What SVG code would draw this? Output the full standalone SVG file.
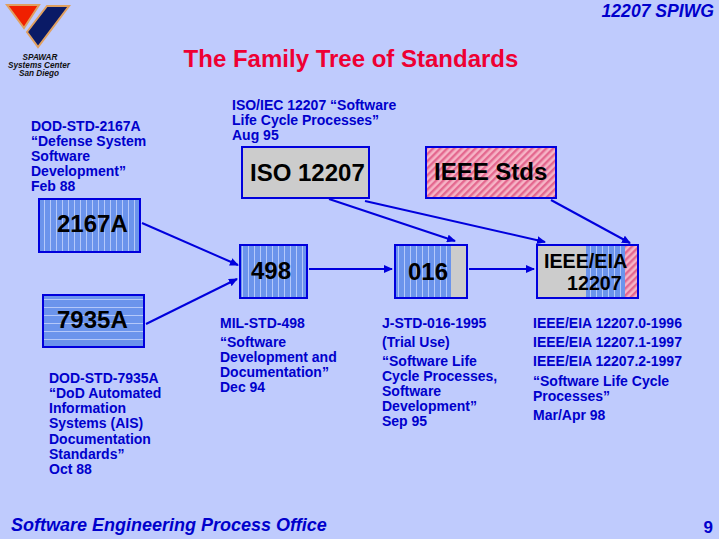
<svg xmlns="http://www.w3.org/2000/svg" width="719" height="539" viewBox="0 0 719 539">
<style>
text{font-family:"Liberation Sans",Arial,sans-serif;font-weight:bold}
.b{fill:#0000cc;font-size:14px}
.n{fill:#000;font-size:24px}
.box{fill:none;stroke:#0000dd;stroke-width:2}
.c{stroke:#0000dd;stroke-width:2;fill:none;marker-end:url(#a)}
</style>
<defs>
<marker id="a" markerUnits="userSpaceOnUse" markerWidth="9" markerHeight="8" refX="8" refY="4" orient="auto"><path d="M0 0L9 4L0 8z" fill="#0000dd"/></marker>
<pattern id="v" width="6" height="10" patternUnits="userSpaceOnUse"><rect width="6" height="10" fill="#6b94ec"/><rect x="2" width="1" height="10" fill="#b4c8fa"/></pattern>
<pattern id="h" width="10" height="8" patternUnits="userSpaceOnUse"><rect width="10" height="8" fill="#6b94ec"/><rect y="3" width="10" height="1" fill="#b4c8fa"/></pattern>
<pattern id="d" width="5" height="5" patternUnits="userSpaceOnUse" patternTransform="rotate(-45)"><rect width="5" height="5" fill="#f6b4c6"/><rect width="5" height="2.4" fill="#e4688f"/></pattern>
</defs>
<rect width="719" height="539" fill="#bfcbfd"/>
<g id="logo">
<path d="M7 5H39L24 28z" fill="#f02000" stroke="#e0a060" stroke-width="2"/>
<path d="M27 32L47 6H69L38 47z" fill="#0a1a66" stroke="#e0a060" stroke-width="2"/>
<g text-anchor="middle" font-size="8.2" font-style="italic" fill="#111"><text x="40" y="60">SPAWAR</text><text x="39" y="68">Systems Center</text><text x="39" y="76">San Diego</text></g>
</g>
<text x="714" y="17" text-anchor="end" font-size="17.6" font-style="italic" fill="#0000cc">12207 SPIWG</text>
<text x="351" y="67" text-anchor="middle" font-size="24" fill="#ee0033">The Family Tree of Standards</text>
<g id="connectors">
<path class="c" d="M142 223L238 265"/>
<path class="c" d="M146 324L237 279"/>
<path class="c" d="M309 269H392"/>
<path class="c" d="M329 199L455 241"/>
<path class="c" d="M365 201L545 242"/>
<path class="c" d="M469 269H534"/>
<path class="c" d="M551 200L630 243"/>
</g>
<g id="n2167a"><rect x="39" y="199" width="101" height="53" class="box" style="fill:url(#v)"/><text class="n" x="57" y="232">2167A</text></g>
<g id="n7935a"><rect x="43" y="295" width="101" height="52" style="fill:url(#h)" class="box"/><text class="n" x="57" y="328">7935A</text></g>
<g id="n498"><rect x="240" y="245" width="67" height="53" style="fill:url(#v)" class="box"/><text class="n" x="251" y="279">498</text></g>
<g id="n016"><rect x="395" y="245" width="72" height="53" style="fill:url(#v)" class="box"/><rect x="451" y="246" width="15" height="51" fill="#cccccc"/><text class="n" x="408" y="280">016</text></g>
<g id="iso"><rect x="242" y="147" width="127" height="51" class="box" style="fill:#ccc"/><text class="n" x="250" y="181">ISO 12207</text></g>
<g id="ieee"><rect x="426" y="147" width="130" height="51" style="fill:url(#d)" class="box"/><text class="n" x="434" y="180">IEEE Stds</text></g>
<g id="ieeeeia"><rect x="537" y="246" width="101" height="52" fill="#cccccc"/><rect x="586" y="246" width="39" height="52" fill="url(#v)"/><rect x="625" y="246" width="13" height="52" fill="url(#d)"/><rect x="537" y="245" width="101" height="53" class="box"/><text x="544" y="268" font-size="19.7">IEEE/EIA</text><text x="567" y="290" font-size="19.7">12207</text></g>
<g class="b" id="labels">
<text x="232" y="110">ISO/IEC 12207 “Software</text><text x="232" y="125">Life Cycle Processes”</text><text x="232" y="140">Aug 95</text>
<text x="31" y="131">DOD-STD-2167A</text><text x="31" y="146">“Defense System</text><text x="31" y="161">Software</text><text x="31" y="176">Development”</text><text x="31" y="191">Feb 88</text>
<text x="49" y="383">DOD-STD-7935A</text><text x="49" y="398">“DoD Automated</text><text x="49" y="413">Information</text><text x="49" y="428">Systems (AIS)</text><text x="49" y="444">Documentation</text><text x="49" y="459">Standards”</text><text x="49" y="474">Oct 88</text>
<text x="220" y="328">MIL-STD-498</text><text x="220" y="347">“Software</text><text x="220" y="362">Development and</text><text x="220" y="377">Documentation”</text><text x="220" y="392">Dec 94</text>
<text x="382" y="328">J-STD-016-1995</text><text x="382" y="347">(Trial Use)</text><text x="382" y="366">“Software Life</text><text x="382" y="381">Cycle Processes,</text><text x="382" y="396">Software</text><text x="382" y="411">Development”</text><text x="382" y="426">Sep 95</text>
<text x="533" y="328">IEEE/EIA 12207.0-1996</text><text x="533" y="347">IEEE/EIA 12207.1-1997</text><text x="533" y="366">IEEE/EIA 12207.2-1997</text><text x="533" y="386">“Software Life Cycle</text><text x="533" y="401">Processes”</text><text x="533" y="420">Mar/Apr 98</text>
</g>
<text x="11" y="531" font-size="18" font-style="italic" fill="#0000cc">Software Engineering Process Office</text>
<text x="713" y="533" text-anchor="end" font-size="17" fill="#0000cc">9</text>
</svg>
